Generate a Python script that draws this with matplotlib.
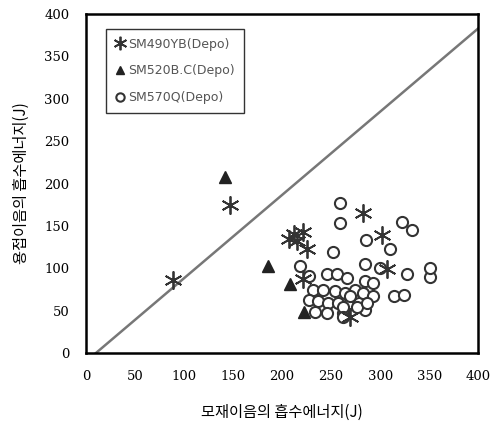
import matplotlib
matplotlib.use("Agg")
import matplotlib.pyplot as plt

# SM490YB(Depo) - asterisk markers
sm490_x = [89, 147, 207, 212, 215, 221, 225, 221, 283, 302, 307, 269]
sm490_y = [86, 175, 135, 140, 132, 143, 123, 87, 165, 139, 99, 43]

# SM520B.C(Depo) - filled triangles
sm520_x = [142, 186, 208, 222]
sm520_y = [208, 103, 81, 49]

# SM570Q(Depo) - open circles
sm570_x = [259, 259, 286, 322, 332, 310, 252, 218, 327, 314, 324, 351, 351,
           246, 256, 266, 232, 242, 254, 264, 274, 285, 227, 237, 247, 257,
           267, 278, 234, 246, 262, 285, 285, 293, 283, 293, 269, 262, 276,
           287, 262, 300, 227]
sm570_y = [177, 153, 133, 155, 145, 123, 119, 103, 93, 67, 69, 90, 100,
           93, 93, 89, 75, 75, 73, 71, 75, 85, 63, 61, 59, 59,
           57, 59, 49, 47, 47, 51, 105, 83, 71, 67, 67, 55, 55,
           59, 43, 100, 91]

ticks = [0, 50, 100, 150, 200, 250, 300, 350, 400]

fig = plt.figure(figsize=(4.94, 4.25), dpi=100)
ax = fig.add_axes([0.174, 0.169, 0.794, 0.798])

ax.plot([10, 400], [0, 383], color="#777777", lw=1.8, zorder=1)

ax.plot(sm570_x, sm570_y, ls="none", marker="o", ms=8, mfc="white",
        mec="#333333", mew=1.5, label="SM570Q(Depo)", zorder=2)
ax.plot(sm520_x, sm520_y, ls="none", marker="^", ms=8, color="#222222",
        label="SM520B.C(Depo)", zorder=3)
ax.plot(sm490_x, sm490_y, ls="none", marker=(6, 2, 0), ms=13, mew=1.3,
        color="#333333", label="SM490YB(Depo)", zorder=4)

ax.set_xlim(0, 400)
ax.set_ylim(0, 400)
ax.set_xticks(ticks)
ax.set_yticks(ticks)
ax.tick_params(length=0, pad=12, labelsize=10)
for lab in ax.get_xticklabels() + ax.get_yticklabels():
    lab.set_family("DejaVu Serif")
    lab.set_fontsize(9.5)
for s in ax.spines.values():
    s.set_linewidth(1.8)

ax.set_xlabel("모재이음의 흡수에너지(J)", family=["Noto Sans CJK KR", "DejaVu Sans"],
              fontsize=11, labelpad=15)
ax.set_ylabel("용접이음의 흡수에너지(J)", family=["Noto Sans CJK KR", "DejaVu Sans"],
              fontsize=11, labelpad=10)

h, l = ax.get_legend_handles_labels()
leg = ax.legend(h[::-1], l[::-1], loc="upper left", bbox_to_anchor=(0.035, 0.975),
                frameon=True, fancybox=False, edgecolor="black", fontsize=9,
                handlelength=0.8, handletextpad=0.3, labelspacing=1.1,
                borderpad=0.7, markerscale=0.75)
leg.get_frame().set_linewidth(1.0)
for t in leg.get_texts():
    t.set_color("#555555")

fig.savefig("out.png", dpi=100)
